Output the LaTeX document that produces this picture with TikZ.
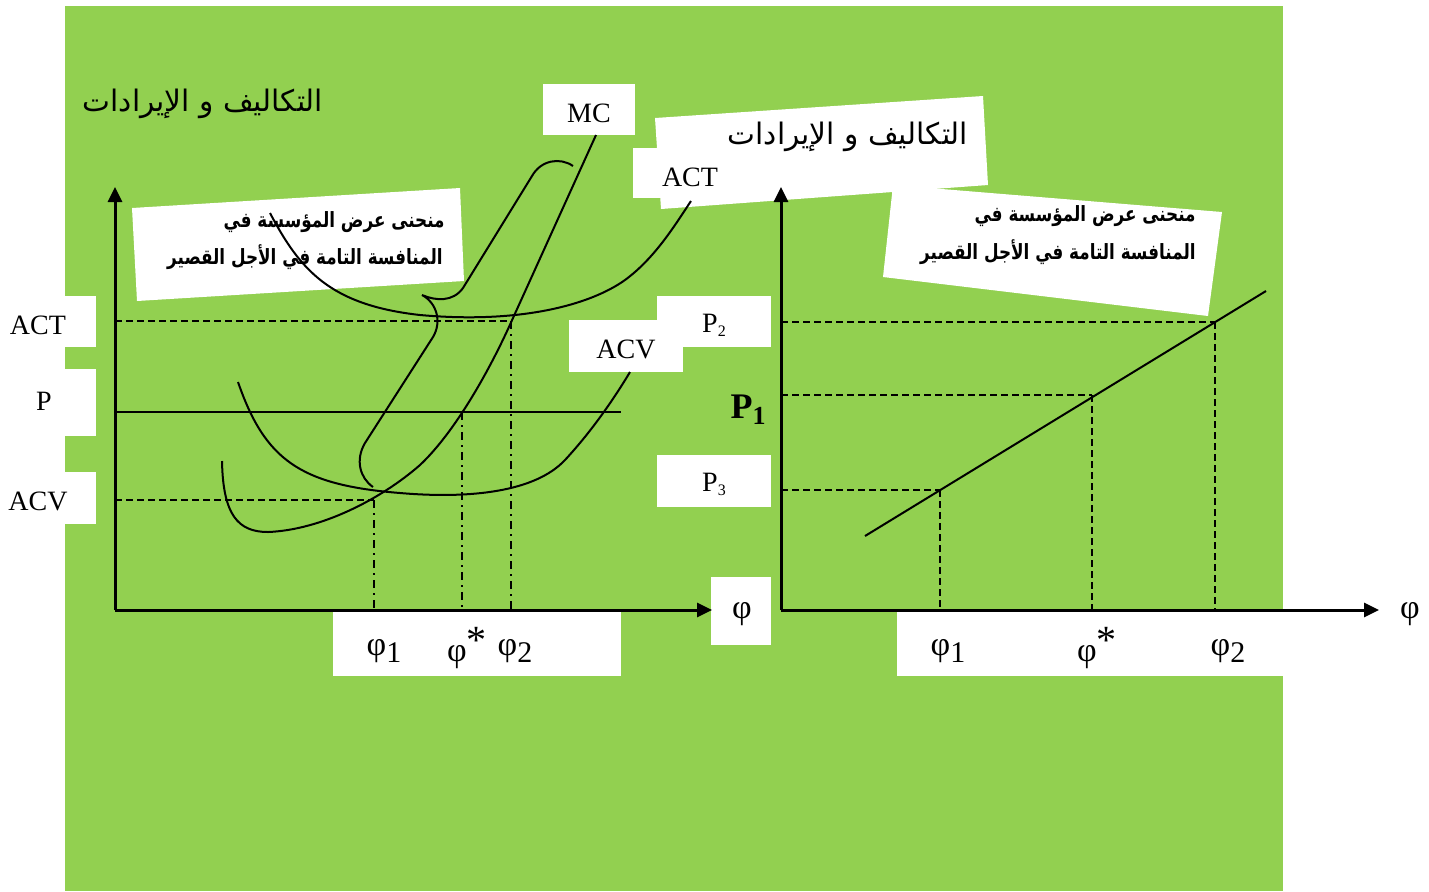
\documentclass[tikz,border=0pt]{standalone}
\usepackage{fontspec}
\setmainfont{Liberation Serif}
\newfontfamily\arabicfont[Script=Arabic]{DejaVu Sans}
\TeXXeTstate=1
\usetikzlibrary{arrows.meta}
\definecolor{bg}{RGB}{146,208,80}
\newcommand{\arline}[1]{\scalebox{0.8}[1]{\beginR #1\endR}}
\newcommand{\phisub}[1]{φ\raisebox{-0.22em}{\fontsize{15}{15}\selectfont #1}}
\newcommand{\phistar}{φ\raisebox{0.22em}{\fontsize{20}{20}\selectfont *}}
\begin{document}
\begin{tikzpicture}[x=0.5pt,y=-0.5pt,
  axis/.style={line width=1.5pt,-{Triangle[length=7.5pt,width=7pt]}},
  curve/.style={line width=1pt},
  guide/.style={line width=1pt,dash pattern=on 3.5pt off 2pt},
  dashdot/.style={line width=1pt,dash pattern=on 4pt off 2.5pt on 1pt off 2.5pt},
  lbl/.style={font=\fontsize{14}{16}\selectfont, inner sep=0pt},
  phil/.style={font=\fontsize{17}{19}\selectfont, inner sep=0pt},
  wbox/.style={fill=white, draw=none},
  artitle/.style={font=\arabicfont\fontsize{14.8}{17}\selectfont, inner sep=0pt},
  arbox/.style={font=\arabicfont\bfseries\fontsize{10.5}{13}\selectfont, inner sep=0pt, anchor=east},
]
\useasboundingbox (0,0) rectangle (1429,891);
\fill[bg] (65,6) rectangle (1283,891);

% white label backgrounds
\fill[wbox] (0,296) rectangle (96,347);
\fill[wbox] (0,369) rectangle (96,436);
\fill[wbox] (0,472) rectangle (96,524);
\fill[wbox] (543,84) rectangle (635,135);
\fill[wbox] (633,148) rectangle (720,198);
\fill[wbox] (655,118) -- (983,96) -- (988,185) -- (661,209) -- cycle;
\fill[wbox] (132,208) -- (460,188) -- (464,281) -- (137,301) -- cycle;
\fill[wbox] (893,185) -- (1222,212) -- (1208,316) -- (883,277) -- cycle;
\fill[wbox] (569,320) rectangle (683,372);
\fill[wbox] (657,296) rectangle (771,347);
\fill[wbox] (657,455) rectangle (771,507);
\fill[wbox] (711,577) rectangle (771,645);
\fill[wbox] (333,612) rectangle (621,676);
\fill[wbox] (897,612) rectangle (1283,676);

% titles and Arabic texts
\node[artitle] (t1) at (203,104) {\beginR التكاليف و الإيرادات\endR};
\node[artitle] (t2) at (848,137) {\beginR التكاليف و الإيرادات\endR};
\node[arbox] (a1) at (445,222) {\arline{منحنى عرض المؤسسة في}};
\node[arbox] (a2) at (443,257) {\arline{المنافسة التامة في الأجل القصير}};
\node[arbox] (b1) at (1196,216) {\arline{منحنى عرض المؤسسة في}};
\node[arbox] (b2) at (1196,252) {\arline{المنافسة التامة في الأجل القصير}};

% labels
\node[lbl] (lACT) at (38,325) {ACT};
\node[lbl] (lP) at (44,401) {P};
\node[lbl] (lACV) at (38,501) {ACV};
\node[lbl] (MC) at (589,113) {MC};
\node[lbl] (uACT) at (690,177) {ACT};
\node[lbl] (mACV) at (626,349) {ACV};
\node[lbl] (P2) at (714,325) {P\raisebox{-0.3ex}{\fontsize{8}{8}\selectfont 2}};
\node[lbl] (P3) at (714,484) {P\raisebox{-0.3ex}{\fontsize{8}{8}\selectfont 3}};
\node[lbl,font=\fontsize{18}{20}\selectfont\bfseries] (P1) at (748,410) {P\raisebox{-0.35ex}{\fontsize{13}{13}\selectfont 1}};
\node[phil] (phiL) at (742,614) {φ};
\node[phil] (phiR) at (1410,614) {φ};
\node[phil] (x1) at (384,651) {\phisub{1}};
\node[phil] (xs) at (467,648) {\phistar};
\node[phil] (x2) at (515,651) {\phisub{2}};
\node[phil] (y1) at (948,651) {\phisub{1}};
\node[phil] (ys) at (1097,648) {\phistar};
\node[phil] (y2) at (1228,651) {\phisub{2}};

% key coordinates
\coordinate (O1) at (115,610);
\coordinate (Y1) at (115,187);
\coordinate (X1) at (712,610);
\coordinate (O2) at (781,610);
\coordinate (Y2) at (781,187);
\coordinate (X2) at (1379,610);

% left chart guides
\draw[guide] (115,321) -- (511,321);
\draw[guide] (115,500) -- (374,500);
\draw[curve] (115,412) -- (621,412);
\draw[dashdot] (374,500) -- (374,610);
\draw[dashdot] (462,412) -- (462,610);
\draw[dashdot] (511,321) -- (511,610);

% MC
\draw[curve] (222,461) .. controls (223,515) and (238,532) .. (268,532)
  .. controls (320,530) and (380,500) .. (420,465)
  .. controls (455,432) and (490,370) .. (513,318) -- (596,135);
% ACV
\draw[curve] (238,382) .. controls (265,460) and (300,485) .. (400,493)
  .. controls (470,499) and (535,492) .. (565,460)
  .. controls (590,433) and (612,402) .. (630,372);
% ACT
\draw[curve] (270,213) .. controls (300,270) and (330,305) .. (420,315)
  .. controls (520,324) and (590,305) .. (625,280)
  .. controls (655,258) and (675,225) .. (691,201);
% brace
\draw[curve] (573,166) .. controls (560,157) and (541,160) .. (532,176) -- (463,288) .. controls (453,302) and (436,301) .. (422,295) .. controls (437,303) and (442,322) .. (433,337) -- (365,443) .. controls (355,460) and (360,478) .. (373,487);

% right chart
\draw[guide] (781,322) -- (1215,322);
\draw[guide] (781,395) -- (1092,395);
\draw[guide] (781,490) -- (940,490);
\draw[guide] (940,490) -- (940,610);
\draw[guide] (1092,395) -- (1092,610);
\draw[guide] (1215,322) -- (1215,610);
\draw[curve] (865,536) -- (1266,291);

% axes
\draw[axis] (O1) -- (Y1);
\draw[axis] (O1) -- (X1);
\draw[axis] (O2) -- (Y2);
\draw[axis] (O2) -- (X2);
\end{tikzpicture}
\end{document}
